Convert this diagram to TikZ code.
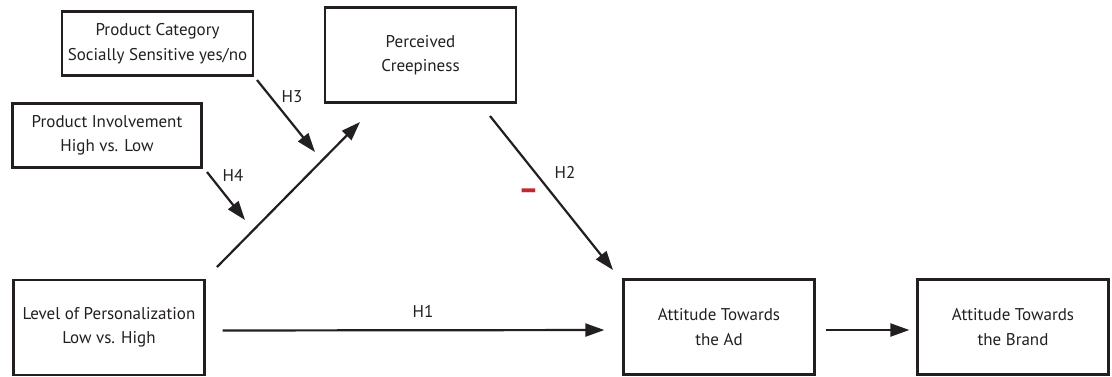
\documentclass[tikz,border=0pt]{standalone}
\usepackage{fontspec}
\usepackage{graphicx}
\setmainfont{PT Sans}
\usetikzlibrary{arrows.meta}
\definecolor{ink}{HTML}{231F20}
\definecolor{minusred}{HTML}{C1272D}
\tikzset{
  box/.style={draw=ink, line width=2.3pt, align=center, inner sep=2pt, font=\fontsize{17}{24.5}\selectfont, text=ink, minimum width=191pt, minimum height=95pt},
  link/.style={draw=ink, line width=2.2pt, -{Triangle[length=19pt,width=13pt]}},
  hlabel/.style={font=\fontsize{17}{19}\selectfont, text=ink},
}
\begin{document}
\begin{tikzpicture}[x=1pt,y=-1pt]
\useasboundingbox (0,0) rectangle (1112,376);
\node[box, minimum height=64pt] (cat) at (157.5,43.5) {Product Category\\Socially Sensitive yes/no};
\node[box] (creep) at (420.5,55) {Perceived\\Creepiness};
\node[box, minimum width=189pt, minimum height=64pt] (inv) at (107,135.5) {Product Involvement\\High vs. Low};
\node[box] (lvl) at (109,327.5) {Level of Personalization\\Low vs. High};
\node[box] (ad) at (719,327) {Attitude Towards\\the Ad};
\node[box] (brand) at (1013,327) {Attitude Towards\\the Brand};

\coordinate (lvlout) at (217,267);
\coordinate (creepin) at (360,122);
\coordinate (catout) at (257,80);
\coordinate (catin) at (315,152);
\coordinate (invout) at (207,172);
\coordinate (invin) at (245,220);
\coordinate (creepout) at (490,116);
\coordinate (adin) at (613,270);

\draw[link] (lvlout) -- (creepin);
\draw[link] (catout) -- (catin);
\draw[link] (invout) -- (invin);
\draw[link] (creepout) -- (adin);
\draw[link, shorten <=17pt, shorten >=18pt] ([yshift=-3pt]lvl.east) -- ([yshift=-3pt]ad.west);
\draw[link, shorten <=10pt, shorten >=7pt] ([yshift=-3pt]ad.east) -- ([yshift=-3pt]brand.west);

\node[hlabel] (h3) at (292,97) {H3};
\node[hlabel] (h4) at (233,175) {H4};
\node[hlabel] (h2) at (565,172) {H2};
\node[hlabel] (h1) at (423,311) {H1};
\node[font=\fontsize{28}{28}\selectfont\bfseries, text=minusred, inner sep=0pt] (minus) at (528.5,195) {\scalebox{1.1}[1.2]{–}};
\end{tikzpicture}
\end{document}
